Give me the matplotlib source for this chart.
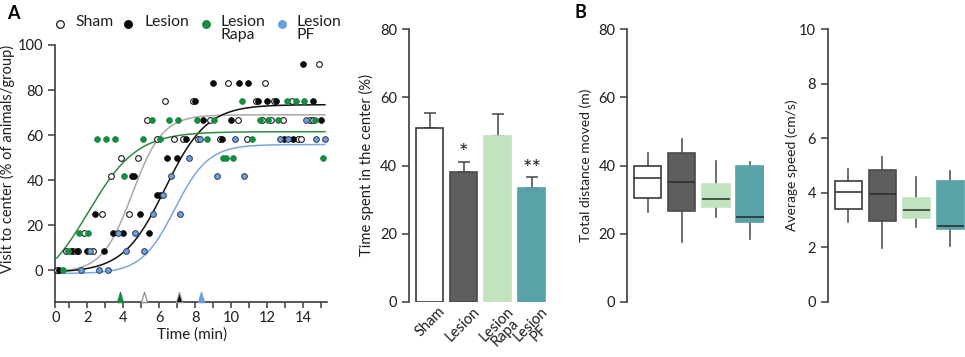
import numpy as np
import matplotlib
matplotlib.use('Agg')
import matplotlib.pyplot as plt
from matplotlib.lines import Line2D

plt.rcParams['font.family'] = ['Lato', 'DejaVu Sans']

W, H = 965, 357

# ---------------- Panel A: visits to center over time ----------------
sham_t = [14.87, 9.83, 11.87, 6.33, 7.86, 11.36, 12.36, 13.36, 5.33, 8.82, 10.36, 11.69, 12.21,
          12.89, 14.37, 14.56, 5.86, 6.83, 7.33, 8.13, 9.37, 10.86, 13.72, 13.87, 3.86, 4.83,
          3.32, 2.83, 4.33, 1.83, 0.82, 1.21, 1.5, 2.3, 0.33]
sham_v = [91.7, 83.3, 83.3, 75, 75, 75, 75, 75, 66.7, 66.7, 66.7, 66.7, 66.7,
          66.7, 66.7, 66.7, 58.3, 58.3, 58.3, 58.3, 58.3, 58.3, 58.3, 58.3, 50, 50,
          41.7, 25, 25, 16.7, 8.3, 8.3, 8.3, 8.3, 0]

lesion_t = [13.97, 8.97, 10.44, 10.94, 7.96, 11.47, 11.97, 12.47, 14.52, 8.44, 9.97, 15.0,
            7.48, 9.47, 12.94, 13.44, 6.44, 6.97, 4.46, 4.57, 5.89, 6.04, 2.43, 4.93,
            3.41, 3.97, 5.44, 1.08, 1.41, 2.0, 2.94, 0.43]
lesion_v = [91.7, 83.3, 83.3, 83.3, 75, 75, 75, 75, 75, 66.7, 66.7, 66.7,
            58.3, 58.3, 58.3, 58.3, 50, 50, 41.7, 41.7, 33.3, 33.3, 25, 25,
            16.7, 16.7, 16.7, 8.3, 8.3, 8.3, 8.3, 0]

rapa_t = [10.58, 13.08, 13.59, 14.06, 5.58, 6.56, 7.06, 8.08, 9.06, 11.59, 12.06, 12.58, 14.65,
          2.56, 3.04, 3.54, 5.07, 6.04, 8.63, 11.13, 9.56, 9.69, 10.08, 15.08, 4.04,
          1.56, 2.06, 0.94, 0.67]
rapa_v = [75, 75, 75, 75, 66.7, 66.7, 66.7, 66.7, 66.7, 66.7, 66.7, 66.7, 66.7,
          58.3, 58.3, 58.3, 58.3, 58.3, 58.3, 58.3, 50, 50, 50, 50, 41.7,
          16.7, 16.7, 8.3, 0]

pf_t = [14.17, 8.26, 10.21, 12.71, 13.17, 14.71, 15.21, 7.65, 6.65, 9.19, 10.71, 6.22,
        5.63, 7.15, 3.69, 4.65, 2.15, 4.15, 5.17, 1.65, 2.65, 3.13]
pf_v = [66.7, 58.3, 58.3, 58.3, 58.3, 58.3, 58.3, 50, 41.7, 41.7, 41.7, 33.3,
        25, 25, 16.7, 16.7, 8.3, 8.3, 8.3, 0, 0, 0]

# sigmoid fit parameters per group (Sham, Lesion, Rapa, PF): bottom, top, midpoint, slope
fit_bottom = [-1.0, -1.0, -10.0, -1.5]
fit_top = [69.0, 73.5, 61.5, 55.8]
fit_mid = [4.5, 6.32, 2.05, 6.86]
fit_slope = [0.84, 1.16, 1.35, 0.93]

# arrowheads (order: Rapa, Sham, Lesion, PF)
arrow_t = [3.82, 5.15, 7.09, 8.3]

group_names = ['Sham', 'Lesion', 'Lesion\nRapa', 'Lesion\nPF']

# ---------------- Bar panel ----------------
bar_labels = ['Sham', 'Lesion', 'Lesion\nRapa', 'Lesion\nPF']
bar_mean = [51.1, 38.2, 48.7, 33.3]
bar_err = [4.2, 2.9, 6.3, 3.2]
bar_sig = ['', '*', '', '**']

# ---------------- Box panels ----------------
dist_med = [36.2, 35.2, 30.1, 25.0]
dist_q1 = [30.5, 26.6, 27.7, 23.5]
dist_q3 = [39.9, 43.8, 34.5, 39.9]
dist_lo = [26.3, 17.6, 24.8, 18.3]
dist_hi = [43.8, 47.7, 41.3, 40.9]

speed_med = [4.03, 3.94, 3.37, 2.79]
speed_q1 = [3.39, 2.97, 3.06, 2.66]
speed_q3 = [4.44, 4.83, 3.82, 4.44]
speed_lo = [2.91, 1.96, 2.75, 2.04]
speed_hi = [4.86, 5.32, 4.59, 4.81]

# ---------------- styles ----------------
SPINE = '#3c3c3c'
TXT = '#1e1e1e'
GREEN = '#198a42'
BLUE = '#6c9fdc'
fill_cols = ['white', '#5e5e5e', '#c2e3c0', '#58a2a8']
edge_cols = ['#3a3a3a', '#4a4a4a', '#c2e3c0', '#58a2a8']
med_cols = ['#3a3a3a', '#2e2e2e', '#3a3a3a', '#2e2e2e']

TICK_FS = 10.5

fig = plt.figure(figsize=(W / 100, H / 100), dpi=100)


def style_axis(ax, bottom=True):
    for s in ['top', 'right']:
        ax.spines[s].set_visible(False)
    ax.spines['left'].set_color(SPINE)
    ax.spines['left'].set_linewidth(1.2)
    if bottom:
        ax.spines['bottom'].set_color(SPINE)
        ax.spines['bottom'].set_linewidth(1.2)
    else:
        ax.spines['bottom'].set_visible(False)
    ax.tick_params(axis='both', colors=SPINE, labelcolor=TXT, labelsize=TICK_FS,
                   width=1.1, length=5, direction='out')


# ===== Panel A =====
axA = fig.add_axes([55.3 / W, 1 - 301.7 / H, (327 - 55.3) / W, (301.7 - 45) / H])
axA.set_xlim(0.22, 15.32)
axA.set_ylim(-14, 100)
style_axis(axA)

xs = np.linspace(0.3, 15.2, 300)
curve_cols = ['#a8a8a8', '#111111', '#2f8a45', '#7aa8de']
for b, t, m, s, c in zip(fit_bottom, fit_top, fit_mid, fit_slope, curve_cols):
    axA.plot(xs, b + (t - b) / (1 + np.exp(-(xs - m) / s)), color=c, lw=1.1, zorder=2)

ms = 17
axA.scatter(sham_t, sham_v, s=ms, facecolor='white', edgecolor='#1a1a1a', linewidth=0.8, zorder=3, clip_on=False)
axA.scatter(lesion_t, lesion_v, s=ms, facecolor='#0a0a0a', edgecolor='#0a0a0a', linewidth=0.6, zorder=3, clip_on=False)
axA.scatter(rapa_t, rapa_v, s=ms, facecolor=GREEN, edgecolor=GREEN, linewidth=0.6, zorder=3, clip_on=False)
axA.scatter(pf_t, pf_v, s=ms, facecolor=BLUE, edgecolor='#2d3d55', linewidth=0.7, zorder=3, clip_on=False)

tri = [(-0.6, -1), (0.6, -1), (0, 1), (-0.6, -1)]
arrow_fc = [GREEN, 'white', '#111111', BLUE]
arrow_ec = [GREEN, '#808080', '#9a9a9a', BLUE]
for t, fc, ec in zip(arrow_t, arrow_fc, arrow_ec):
    axA.plot([t], [-11.9], marker=tri, markersize=7.5, markerfacecolor=fc,
             markeredgecolor=ec, markeredgewidth=0.8, linestyle='none', clip_on=False, zorder=4)

xt = [0.22] + list(range(1, 16))
xl = ['0'] + [str(i) if (i % 2 == 0) else '' for i in range(1, 16)]
axA.set_xticks(xt)
axA.set_xticklabels(xl)
axA.tick_params(axis='x', length=4, pad=3)
axA.set_yticks([0, 20, 40, 60, 80, 100])
axA.set_xlabel('Time (min)', fontsize=11, color=TXT)
axA.xaxis.set_label_coords(0.503, -0.10)
axA.set_ylabel('Visit to center (% of animals/group)', fontsize=10.5, color=TXT)
axA.yaxis.set_label_coords(-0.148, 0.555)

# legend (manual)
leg_mx = [60, 128, 206, 282]
leg_tx = [75, 144, 220, 297]
leg_fc = ['white', '#0a0a0a', GREEN, BLUE]
leg_ec = ['#1a1a1a', '#0a0a0a', GREEN, BLUE]
for mx, tx, fc, ec, name in zip(leg_mx, leg_tx, leg_fc, leg_ec, group_names):
    fig.add_artist(Line2D([mx / W], [1 - 23.5 / H], transform=fig.transFigure, marker='o',
                          markersize=5.5, markerfacecolor=fc, markeredgecolor=ec, markeredgewidth=0.9,
                          linestyle='none'))
    fig.text(tx / W, 1 - 14.5 / H, name, fontsize=11.3, color=TXT, va='top', ha='left',
             linespacing=0.92)

fig.text(7 / W, 1 - 5 / H, 'A', fontsize=13, fontweight='bold', va='top', ha='left', color='black')
fig.text(574 / W, 1 - 4 / H, 'B', fontsize=13, fontweight='bold', va='top', ha='left', color='black')

# ===== Bar panel =====
axC = fig.add_axes([409 / W, 1 - 301.7 / H, 138 / W, 272.4 / H])
style_axis(axC, bottom=False)
axC.set_xlim(-0.61, 3.45)
axC.set_ylim(0, 80)
xpos = np.arange(len(bar_mean))
axC.bar(xpos, bar_mean, width=0.8, color=fill_cols, edgecolor=edge_cols, linewidth=1.2, zorder=2)
axC.errorbar(xpos, bar_mean, yerr=[np.zeros(4), bar_err], fmt='none', ecolor='#444444',
             elinewidth=1.1, capsize=4, capthick=1.1, zorder=1)
for x, m, e, s in zip(xpos, bar_mean, bar_err, bar_sig):
    if s:
        axC.text(x, m + e - 0.5, s, ha='center', va='bottom', fontsize=16, color=TXT)
axC.set_yticks([0, 20, 40, 60, 80])
axC.set_xticks(xpos + 0.25)
axC.set_xticklabels(bar_labels, rotation=45, ha='right', va='top', rotation_mode='anchor',
                    multialignment='center', fontsize=10.6, linespacing=0.85)
axC.tick_params(axis='x', length=0, pad=2)
axC.set_ylabel('Time spent in the center (%)', fontsize=10.6, color=TXT)
axC.yaxis.set_label_coords(-0.25, 0.5)


# ===== Box panels =====
def box_panel(rect, meds, q1s, q3s, los, his, ylim, yticks, ylabel, labx):
    ax = fig.add_axes(rect)
    style_axis(ax, bottom=False)
    stats = []
    for m, a, b, lo, hi in zip(meds, q1s, q3s, los, his):
        stats.append(dict(med=m, q1=a, q3=b, whislo=lo, whishi=hi, fliers=[]))
    bp = ax.bxp(stats, positions=np.arange(4), widths=0.8, patch_artist=True,
                showfliers=False, showcaps=False)
    for i, box in enumerate(bp['boxes']):
        box.set_facecolor(fill_cols[i])
        box.set_edgecolor(edge_cols[i])
        box.set_linewidth(1.2)
        box.set_zorder(3)
    for i, med in enumerate(bp['medians']):
        med.set_color(med_cols[i])
        med.set_linewidth(1.2)
        med.set_zorder(4)
    for w in bp['whiskers']:
        w.set_color('#555555')
        w.set_linewidth(1.2)
        w.set_zorder(2)
    ax.set_xlim(-0.6, 3.42)
    ax.set_ylim(*ylim)
    ax.set_yticks(yticks)
    ax.set_xticks([])
    ax.set_ylabel(ylabel, fontsize=10, color=TXT)
    ax.yaxis.set_label_coords(labx, 0.5)
    return ax


box_panel([627.3 / W, 1 - 301.7 / H, 137 / W, 272.4 / H], dist_med, dist_q1, dist_q3, dist_lo, dist_hi,
          (0, 80), [0, 20, 40, 60, 80], 'Total distance moved (m)', -0.255)
box_panel([827.7 / W, 1 - 301.7 / H, 137 / W, 272.4 / H], speed_med, speed_q1, speed_q3, speed_lo, speed_hi,
          (0, 10), [0, 2, 4, 6, 8, 10], 'Average speed (cm/s)', -0.215)

fig.savefig('out.png', dpi=100)
